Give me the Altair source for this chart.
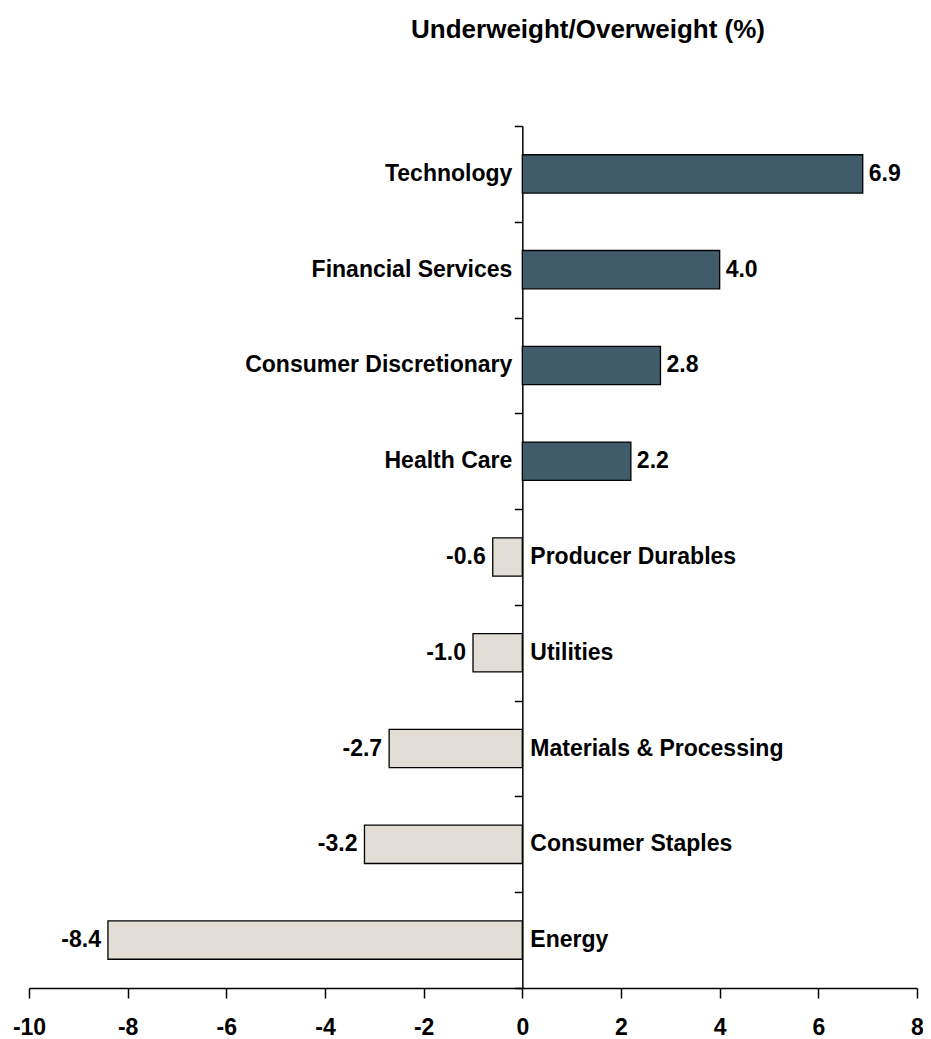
import altair as alt
import pandas as pd

sectors = ["Technology", "Financial Services", "Consumer Discretionary", "Health Care",
           "Producer Durables", "Utilities", "Materials & Processing", "Consumer Staples", "Energy"]
values = [6.9, 4.0, 2.8, 2.2, -0.6, -1.0, -2.7, -3.2, -8.4]
x_ticks = [-10, -8, -6, -4, -2, 0, 2, 4, 6, 8]

df = pd.DataFrame({"sector": sectors, "value": values})
df["sign"] = ["pos" if v >= 0 else "neg" for v in values]
df["vlabel"] = [f"{v:.1f}" for v in values]

W, H = 888, 862
FONT = "Liberation Sans"
FS = 23
DARK = "#405B6A"
LIGHT = "#E2DED6"

xscale = alt.Scale(domain=[-10, 8], nice=False, zero=False)
yscale = alt.Scale(domain=sectors, paddingInner=0, paddingOuter=0)

base = alt.Chart(df)

bars = base.mark_bar(height={"band": 0.4}, stroke="black", strokeWidth=1.3).encode(
    x=alt.X("value:Q", scale=xscale,
            axis=alt.Axis(values=x_ticks, title=None, grid=False, domainColor="black",
                          domainWidth=1.5, tickColor="black", tickWidth=1.5, tickSize=10,
                          labelFont=FONT, labelFontWeight="bold", labelFontSize=FS,
                          labelColor="black", labelPadding=18, labelFlush=False,
                          labelExpr="toString(datum.value)")),
    x2=alt.datum(0),
    y=alt.Y("sector:N", scale=yscale, sort=sectors,
            axis=alt.Axis(title=None, labels=False, grid=False, domainColor="black",
                          domainWidth=1.5, tickColor="black", tickWidth=1.5, tickSize=8,
                          tickBand="extent", offset=-W * 10 / 18)),
    color=alt.Color("sign:N", scale=alt.Scale(domain=["pos", "neg"], range=[DARK, LIGHT]),
                    legend=None),
)

txt = dict(font=FONT, fontWeight="bold", fontSize=FS, color="black", baseline="middle")

cat_pos = base.transform_filter("datum.value >= 0").mark_text(align="right", dx=-10, **txt).encode(
    x=alt.datum(0), y=alt.Y("sector:N", sort=sectors), text="sector:N")
cat_neg = base.transform_filter("datum.value < 0").mark_text(align="left", dx=8, **txt).encode(
    x=alt.datum(0), y=alt.Y("sector:N", sort=sectors), text="sector:N")
val_pos = base.transform_filter("datum.value >= 0").mark_text(align="left", dx=6, **txt).encode(
    x="value:Q", y=alt.Y("sector:N", sort=sectors), text="vlabel:N")
val_neg = base.transform_filter("datum.value < 0").mark_text(align="right", dx=-7, **txt).encode(
    x="value:Q", y=alt.Y("sector:N", sort=sectors), text="vlabel:N")

chart = alt.layer(bars, cat_pos, cat_neg, val_pos, val_neg).properties(
    width=W, height=H,
    background="white",
    autosize=alt.AutoSizeParams(type="none"),
    padding={"left": 21, "top": 118, "right": 6, "bottom": 56},
    title=alt.TitleParams("Underweight/Overweight (%)", font=FONT, fontWeight="bold",
                          fontSize=26, color="black", anchor="middle", dx=115, offset=82),
).configure_view(strokeWidth=0, stroke=None)

chart.save("out.html", embed_options={"renderer": "svg", "actions": False})
